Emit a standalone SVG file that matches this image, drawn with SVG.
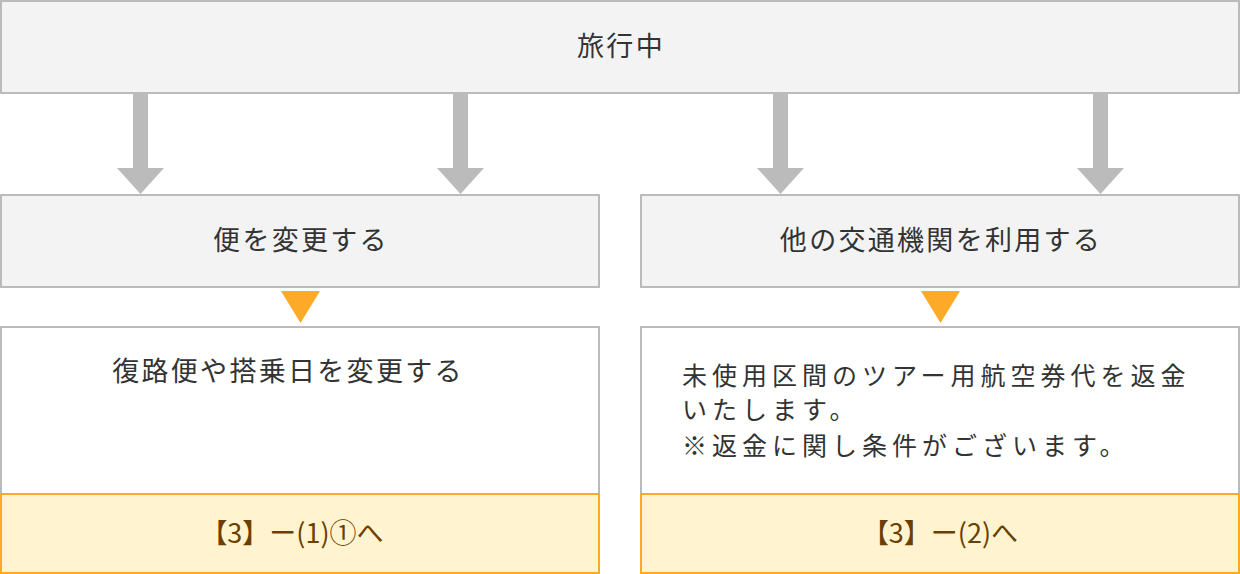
<svg xmlns="http://www.w3.org/2000/svg" width="1240" height="574" viewBox="0 0 1240 574">
<style>
.g{fill:#f3f3f3;stroke:#bbb;stroke-width:2}
.w{fill:#fff;stroke:#bbb;stroke-width:2}
.y{fill:#fff4cf;stroke:#ffa928;stroke-width:2}
text{font-family:"Noto Sans CJK JP",sans-serif;font-size:27px;letter-spacing:2.3px;fill:#333}
.c{text-anchor:middle}
.r{font-size:25px;letter-spacing:5px}
.b{fill:#6b3f00;letter-spacing:0}
.ga{fill:#bbb}
.oa{fill:#ffa928}
</style>
<g id="connectors">
<path class="ga" d="M133 93h15v75h16l-23.5 26l-23.5-26h16z"/>
<path class="ga" d="M453 93h15v75h16l-23.5 26l-23.5-26h16z"/>
<path class="ga" d="M773 93h15v75h16l-23.5 26l-23.5-26h16z"/>
<path class="ga" d="M1093 93h15v75h16l-23.5 26l-23.5-26h16z"/>
<path class="oa" d="M281 291h39l-19.5 32z"/>
<path class="oa" d="M921 291h39l-19.5 32z"/>
</g>
<g id="top"><rect class="g" x="1" y="1" width="1238" height="92"/><text class="c" x="621" y="56">旅行中</text></g>
<g id="mid-left"><rect class="g" x="1" y="195" width="598" height="92"/><text class="c" x="301" y="250">便を変更する</text></g>
<g id="mid-right"><rect class="g" x="641" y="195" width="598" height="92"/><text class="c" x="941" y="250">他の交通機関を利用する</text></g>
<g id="low-left"><rect class="w" x="1" y="327" width="598" height="246"/><text class="c" x="288" y="381">復路便や搭乗日を変更する</text>
<rect class="y" x="1" y="494" width="598" height="79"/><text class="c b" x="292" y="543">【3】ー(1)①へ</text></g>
<g id="low-right"><rect class="w" x="641" y="327" width="598" height="246"/>
<text class="r" x="682" y="385">未使用区間のツアー用航空券代を返金</text>
<text class="r" x="682" y="419">いたします。</text>
<text class="r" x="682" y="455">※返金に関し条件がございます。</text>
<rect class="y" x="641" y="494" width="598" height="79"/><text class="c b" x="940" y="543">【3】ー(2)へ</text></g>
</svg>
